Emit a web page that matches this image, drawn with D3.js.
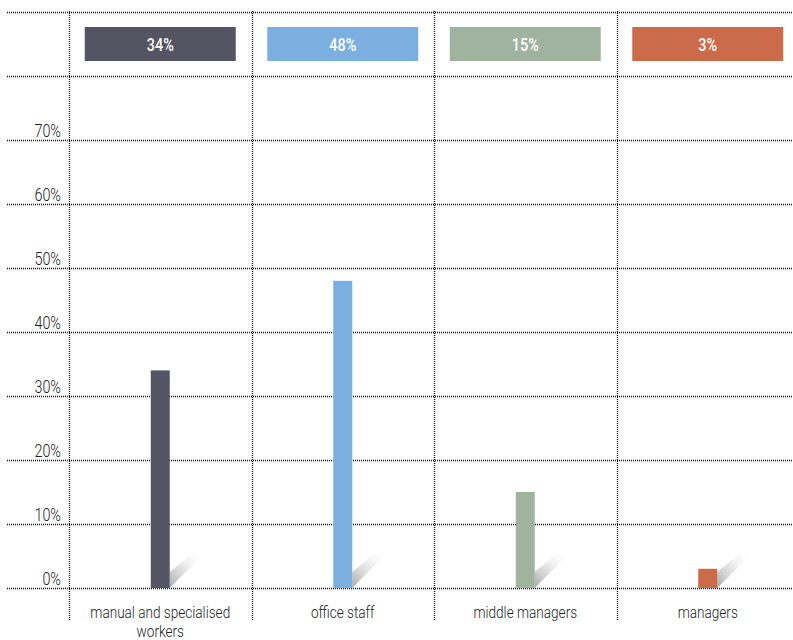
<!DOCTYPE html>
<html>
<head>
<meta charset="utf-8">
<script src="https://cdn.jsdelivr.net/npm/d3@7"></script>
<style>
  html, body { margin: 0; padding: 0; background: #fff; }
  svg { display: block; }
  text { font-family: "Roboto", "Liberation Sans", sans-serif; }
</style>
</head>
<body>
<svg id="chart" width="793" height="640"></svg>
<script>
// Share of staff by job category
const categories = ["manual and specialised workers", "office staff", "middle managers", "managers"];
const categoryLines = [["manual and specialised", "workers"], ["office staff"], ["middle managers"], ["managers"]];
const values = [34, 48, 15, 3];
const valueLabels = ["34%", "48%", "15%", "3%"];
const colors = ["#555463", "#7aafdf", "#a0b39e", "#cc6b4a"];
const gridTicks = [0, 10, 20, 30, 40, 50, 60, 70, 80, 90];
const tickLabels = ["0%", "10%", "20%", "30%", "40%", "50%", "60%", "70%"];

const svg = d3.select("#chart");
const W = 793;
const narrow = 0.8; // horizontal squeeze for a condensed look

const x = d3.scaleBand().domain(categories).range([69, 799]).paddingInner(0).paddingOuter(0);
const y = d3.scaleLinear().domain([0, 90]).range([588, 12]);

// Shadow gradient
const defs = svg.append("defs");
const grad = defs.append("linearGradient")
  .attr("id", "shadowGrad")
  .attr("x1", "0").attr("y1", "1").attr("x2", "1").attr("y2", "0");
grad.append("stop").attr("offset", "0%").attr("stop-color", "#999").attr("stop-opacity", 0.85);
grad.append("stop").attr("offset", "50%").attr("stop-color", "#d0d0d0").attr("stop-opacity", 0.55);
grad.append("stop").attr("offset", "100%").attr("stop-color", "#ffffff").attr("stop-opacity", 0);

// Horizontal dotted grid
svg.append("g").selectAll("line")
  .data(gridTicks)
  .join("line")
  .attr("x1", 7).attr("x2", W)
  .attr("y1", d => Math.round(y(d)) + 0.5)
  .attr("y2", d => Math.round(y(d)) + 0.5)
  .attr("stroke", "#111")
  .attr("stroke-width", 1.3)
  .attr("stroke-dasharray", "1,1");

// Vertical dotted separators
svg.append("g").selectAll("line")
  .data(categories)
  .join("line")
  .attr("x1", d => Math.round(x(d)) + 0.5)
  .attr("x2", d => Math.round(x(d)) + 0.5)
  .attr("y1", 11).attr("y2", 621)
  .attr("stroke", "#111")
  .attr("stroke-width", 1.3)
  .attr("stroke-dasharray", "1,1");

// Y tick labels
svg.append("g").selectAll("text")
  .data(tickLabels)
  .join("text")
  .attr("transform", (d, i) => `translate(61,${y(i * 10) - 3}) scale(${narrow},1)`)
  .attr("text-anchor", "end")
  .attr("font-size", 18)
  .attr("font-weight", 300)
  .attr("fill", "#222")
  .text(d => d);

const barW = 19;
const cx = (c) => x(c) + x.bandwidth() / 2;

// Bar shadows
svg.append("g").selectAll("polygon")
  .data(categories)
  .join("polygon")
  .attr("points", c => {
    const x1 = cx(c) + barW / 2, y0 = y(0);
    return [[x1, y0], [x1, y0 - 16], [x1 + 22, y0 - 34], [x1 + 34, y0 - 34]].map(p => p.join(",")).join(" ");
  })
  .attr("fill", "url(#shadowGrad)");

// Bars
svg.append("g").selectAll("rect")
  .data(categories)
  .join("rect")
  .attr("x", c => cx(c) - barW / 2)
  .attr("width", barW)
  .attr("y", (c, i) => y(values[i]))
  .attr("height", (c, i) => y(0) - y(values[i]))
  .attr("fill", (c, i) => colors[i]);

// Value boxes at top
const boxW = 151, boxH = 34, boxY = 27;
const boxes = svg.append("g").selectAll("g")
  .data(categories)
  .join("g");
boxes.append("rect")
  .attr("x", c => cx(c) - boxW / 2)
  .attr("y", boxY)
  .attr("width", boxW)
  .attr("height", boxH)
  .attr("fill", (c, i) => colors[i]);
boxes.append("text")
  .attr("transform", c => `translate(${cx(c)},${boxY + boxH / 2 + 6.5}) scale(${narrow},1)`)
  .attr("text-anchor", "middle")
  .attr("font-size", 18)
  .attr("font-weight", 500)
  .attr("fill", "#fff")
  .text((c, i) => valueLabels[i]);

// Category labels
svg.append("g").selectAll("g")
  .data(categories)
  .join("g")
  .each(function(c, i) {
    d3.select(this).selectAll("text")
      .data(categoryLines[i])
      .join("text")
      .attr("transform", (t, j) => `translate(${cx(c)},${618 + j * 19}) scale(${narrow},1)`)
      .attr("text-anchor", "middle")
      .attr("font-size", 17)
      .attr("font-weight", 300)
      .attr("fill", "#222")
      .text(t => t);
  });
</script>
</body>
</html>
